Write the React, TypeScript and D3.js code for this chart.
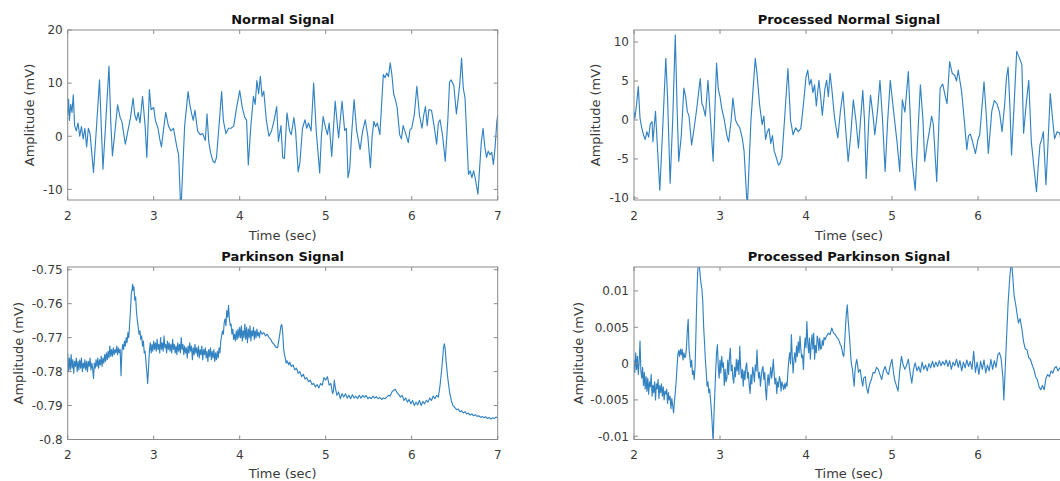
import React from "react";
import * as d3 from "d3";

type Pt = [number, number];

// ---------- DATA (time in sec, amplitude in mV) ----------
const normalSignal: Pt[] = [
  [2.0, 4], [2.01, 7], [2.02, 3], [2.035, 6], [2.05, 4.5], [2.065, 7.8], [2.08, 2], [2.1, 1], [2.12, 2.5], [2.14, 0],
  [2.16, 1.8], [2.18, -0.5], [2.2, 1.5], [2.22, -2], [2.24, 1.5], [2.26, 0.5], [2.3, -6.8], [2.34, 3], [2.37, 10.6], [2.39, 2],
  [2.41, -6.2], [2.44, 2], [2.48, 13.2], [2.5, 3], [2.52, -3.7], [2.55, 1], [2.58, 5.9], [2.61, 3.5], [2.63, 2.8], [2.67, -1.5],
  [2.7, 1], [2.73, 3.5], [2.76, 7.2], [2.78, 4], [2.8, 3], [2.82, 4.5], [2.84, 2.5], [2.87, 7.5], [2.9, 2], [2.92, -4],
  [2.95, 8.8], [2.97, 5], [3.0, 5.4], [3.02, 3], [3.05, 1.5], [3.07, -0.5], [3.09, -2], [3.12, 2], [3.14, 4.5], [3.17, 2],
  [3.2, 1], [3.23, 1.5], [3.27, -2.1], [3.29, -3.5], [3.31, -12], [3.32, -12.8], [3.36, 2], [3.4, 8.4], [3.42, 6], [3.44, 4.3],
  [3.46, 3], [3.48, 4.9], [3.51, 1], [3.54, 0.3], [3.57, 0.5], [3.6, -0.8], [3.62, 4.2], [3.64, -1], [3.66, -3], [3.68, -4.2],
  [3.69, -4.7], [3.71, -5], [3.73, -4], [3.75, 0], [3.79, 8.4], [3.81, 3], [3.84, 0.5], [3.87, 1.5], [3.9, 1.5], [3.93, 1.9],
  [3.96, 5], [4.0, 8.6], [4.03, 5.4], [4.06, 3.5], [4.08, 3], [4.1, -5.4], [4.13, 2], [4.16, 7.5], [4.18, 6], [4.2, 10.5],
  [4.22, 8], [4.24, 11.3], [4.26, 7.5], [4.28, 8.5], [4.31, 3], [4.34, 0], [4.37, 1], [4.4, 3], [4.43, 5.6], [4.45, -1],
  [4.48, 2], [4.5, -4], [4.52, -4.2], [4.55, 4.4], [4.58, 1], [4.6, 0.3], [4.63, 3.5], [4.65, 1], [4.68, -6.7], [4.7, -5],
  [4.73, 1.5], [4.76, 3.1], [4.78, 1.5], [4.8, 2.5], [4.83, 1], [4.86, 10], [4.89, 1], [4.93, -6.9], [4.95, 0], [4.97, 3.7],
  [5.0, 1.5], [5.02, 0.3], [5.04, 2.5], [5.07, -3.8], [5.11, 6.6], [5.15, -0.3], [5.19, 6.6], [5.22, 1.1], [5.24, 1.5], [5.26, -7.8],
  [5.28, -6], [5.3, 0], [5.33, 6.9], [5.36, 1], [5.4, -2.5], [5.43, 1], [5.46, 3.1], [5.49, 0], [5.52, -5.9], [5.54, 0],
  [5.56, 2.8], [5.58, 1.8], [5.6, 2.5], [5.63, 0.3], [5.65, 6], [5.67, 11.6], [5.69, 11], [5.71, 11.9], [5.73, 11.2], [5.75, 13.8],
  [5.77, 11.5], [5.79, 8], [5.81, 6.9], [5.83, 5.5], [5.86, 0.3], [5.88, -0.5], [5.9, 2], [5.93, 0.5], [5.96, -1.2], [5.98, 1.2],
  [6.0, 1.5], [6.03, 4], [6.06, 9.4], [6.09, 4], [6.12, 1.5], [6.14, 4], [6.16, 5.6], [6.18, 2], [6.2, 5], [6.23, 4.9],
  [6.26, 2], [6.29, -1.5], [6.31, 2.5], [6.33, 3.1], [6.36, 0], [6.39, -4.7], [6.42, 3], [6.44, 10.2], [6.46, 10.6], [6.49, 9.5],
  [6.52, 4.2], [6.54, 7], [6.56, 10], [6.58, 14.7], [6.6, 9], [6.62, 7.2], [6.64, 0], [6.66, -7.2], [6.68, -6.5], [6.7, -7.8],
  [6.72, -6.5], [6.74, -8], [6.77, -10.9], [6.79, -6], [6.81, -1], [6.83, 1.5], [6.85, -2], [6.87, -4], [6.89, -2.8], [6.91, -3.5],
  [6.93, -3], [6.95, -5.3], [6.97, -2], [6.99, 2.8], [7.0, 4],
];

const processedNormalSignal: Pt[] = [
  [2.0, 1], [2.01, 0.2], [2.03, 2], [2.05, 4.3], [2.07, 0.2], [2.09, -1], [2.11, -1.9], [2.13, -2.5], [2.15, -1.5], [2.17, -2.2],
  [2.19, -0.5], [2.21, -0.2], [2.22, -2.8], [2.25, 1.1], [2.27, -3], [2.3, -9], [2.33, -2], [2.37, 7.9], [2.39, 3], [2.42, -8.1],
  [2.45, 0], [2.48, 10.9], [2.5, 2], [2.52, -5.3], [2.55, -2], [2.58, 4.1], [2.6, 3], [2.62, 1.1], [2.64, 0.5], [2.67, -3.2],
  [2.7, -1], [2.73, 1.5], [2.77, 5.3], [2.79, 2], [2.8, 1.9], [2.83, 0.5], [2.86, 5.1], [2.89, 0], [2.92, -5.3], [2.96, 7.3],
  [2.98, 4], [3.0, 3], [3.02, 1.5], [3.05, 0], [3.08, -2], [3.1, -2.8], [3.13, 0], [3.15, 2.8], [3.18, 0], [3.2, -0.5],
  [3.23, -1], [3.26, -2.4], [3.28, -4], [3.31, -10], [3.32, -10.6], [3.36, 0], [3.41, 7.9], [3.43, 6], [3.46, 2], [3.49, -0.6],
  [3.51, 0.5], [3.53, -2.5], [3.55, -1.5], [3.57, -1.1], [3.59, -3], [3.61, -2], [3.63, -4], [3.66, -5], [3.68, -5.8], [3.7, -5.5],
  [3.72, -4.8], [3.75, 0], [3.79, 6.6], [3.82, 0], [3.85, -1.9], [3.88, -1], [3.91, -1.5], [3.94, -1.1], [3.97, 2], [4.0, 5.5],
  [4.02, 6.4], [4.04, 4.5], [4.06, 5.2], [4.08, 3.5], [4.1, 4.5], [4.12, 1.8], [4.15, 5.1], [4.17, 3], [4.19, 0.6], [4.22, 4],
  [4.24, 5.1], [4.26, 3], [4.28, 6.0], [4.3, 4], [4.33, 0.5], [4.35, -1], [4.37, -2.3], [4.4, 1.1], [4.43, 3.6], [4.46, -1],
  [4.49, -5.3], [4.52, -2], [4.55, 2.6], [4.58, 0], [4.61, -3.6], [4.66, 3.8], [4.68, 0], [4.7, -7.5], [4.73, 0], [4.75, 3.2],
  [4.78, 0.5], [4.8, -1.9], [4.83, 1], [4.86, 5.1], [4.89, 0], [4.92, -6.6], [4.95, 0], [4.98, 5.1], [5.01, 2], [5.03, 0],
  [5.06, -3], [5.09, -6.6], [5.12, 2.6], [5.15, 1], [5.19, 6.2], [5.21, 1], [5.23, -4.7], [5.25, -7], [5.27, -9], [5.3, -2],
  [5.33, 4.5], [5.36, 0], [5.38, -5.3], [5.41, -3], [5.44, -1.1], [5.46, 0.5], [5.48, -0.5], [5.52, -7.9], [5.54, -2], [5.56, 4.1],
  [5.59, 4.6], [5.62, 3], [5.64, 2.1], [5.67, 7.5], [5.7, 6], [5.73, 5.7], [5.75, 5], [5.77, 6.4], [5.79, 5], [5.81, 3.6],
  [5.84, 0], [5.87, -3.8], [5.89, -2], [5.91, -1.8], [5.93, -2.5], [5.97, -4.3], [6.0, -2.5], [6.02, -1.9], [6.07, 4.9], [6.1, 0],
  [6.12, -4.3], [6.16, 1.1], [6.19, 2.5], [6.22, 2.1], [6.25, 1], [6.28, -1.5], [6.31, 2], [6.33, 5.3], [6.35, 6.8], [6.37, 2],
  [6.39, -4.5], [6.42, 2], [6.45, 8.8], [6.48, 8], [6.51, 7.1], [6.53, -1.7], [6.56, 2], [6.59, 5.1], [6.62, -2.8], [6.65, -6],
  [6.68, -9.2], [6.7, -6], [6.72, -3.2], [6.74, -2.5], [6.76, -1.5], [6.79, -8.3], [6.81, -4], [6.84, 3.4], [6.86, 1], [6.89, -2.4],
  [6.92, -1.5], [6.95, -1.7], [6.97, -3], [7.0, -5],
];

const parkinsonSignal: Pt[] = [
  [2.0, -0.7745], [2.01, -0.78], [2.02, -0.776], [2.03, -0.7795], [2.04, -0.775], [2.05, -0.779], [2.06, -0.7765], [2.07, -0.7805],
  [2.08, -0.777], [2.09, -0.7785], [2.1, -0.776], [2.11, -0.78], [2.12, -0.777], [2.13, -0.7795], [2.14, -0.7765], [2.15, -0.779],
  [2.16, -0.776], [2.17, -0.78], [2.18, -0.7775], [2.19, -0.779], [2.2, -0.7765], [2.21, -0.7795], [2.22, -0.777], [2.23, -0.78],
  [2.24, -0.777], [2.25, -0.7785], [2.26, -0.776], [2.27, -0.7795], [2.28, -0.7775], [2.29, -0.779], [2.3, -0.782], [2.31, -0.7775],
  [2.32, -0.779], [2.33, -0.7765], [2.34, -0.7785], [2.35, -0.776], [2.36, -0.779], [2.37, -0.7765], [2.38, -0.778], [2.39, -0.7755],
  [2.4, -0.7785], [2.41, -0.776], [2.42, -0.7775], [2.43, -0.775], [2.44, -0.777], [2.45, -0.7745], [2.46, -0.7765], [2.47, -0.774],
  [2.48, -0.776], [2.49, -0.7725], [2.5, -0.7755], [2.51, -0.7735], [2.52, -0.7755], [2.53, -0.773], [2.54, -0.775], [2.55, -0.7735],
  [2.56, -0.7745], [2.57, -0.7725], [2.58, -0.775], [2.59, -0.773], [2.6, -0.7745], [2.61, -0.7735], [2.62, -0.7812], [2.63, -0.774],
  [2.64, -0.772], [2.65, -0.7735], [2.66, -0.771], [2.67, -0.7725], [2.68, -0.77], [2.69, -0.7715], [2.7, -0.7685], [2.71, -0.77],
  [2.72, -0.766], [2.73, -0.762], [2.74, -0.757], [2.75, -0.7555], [2.755, -0.7542], [2.76, -0.756], [2.77, -0.755], [2.78, -0.759],
  [2.79, -0.758], [2.8, -0.7625], [2.81, -0.765], [2.82, -0.767], [2.83, -0.769], [2.84, -0.768], [2.85, -0.7705], [2.86, -0.7695],
  [2.87, -0.7725], [2.88, -0.771], [2.89, -0.7745], [2.9, -0.774], [2.91, -0.777], [2.92, -0.78], [2.93, -0.7835], [2.94, -0.779],
  [2.95, -0.774], [2.96, -0.7715], [2.97, -0.7745], [2.98, -0.772], [2.99, -0.774], [3.0, -0.771], [3.01, -0.7735], [3.02, -0.7715],
  [3.03, -0.774], [3.04, -0.7705], [3.05, -0.7735], [3.06, -0.772], [3.07, -0.7745], [3.08, -0.77], [3.09, -0.7735], [3.1, -0.7715],
  [3.11, -0.774], [3.12, -0.7695], [3.13, -0.773], [3.14, -0.772], [3.15, -0.7745], [3.16, -0.771], [3.17, -0.7735], [3.18, -0.7715],
  [3.19, -0.774], [3.2, -0.772], [3.21, -0.7745], [3.22, -0.7705], [3.23, -0.7735], [3.24, -0.772], [3.25, -0.7745], [3.26, -0.7725],
  [3.27, -0.775], [3.28, -0.7715], [3.29, -0.774], [3.3, -0.772], [3.31, -0.7745], [3.32, -0.77], [3.33, -0.7735], [3.34, -0.772],
  [3.35, -0.775], [3.36, -0.7725], [3.37, -0.7745], [3.38, -0.773], [3.39, -0.776], [3.4, -0.7725], [3.41, -0.7745], [3.42, -0.7715],
  [3.43, -0.774], [3.44, -0.7725], [3.45, -0.7765], [3.46, -0.773], [3.47, -0.775], [3.48, -0.772], [3.49, -0.7745], [3.5, -0.773],
  [3.51, -0.7755], [3.52, -0.7725], [3.53, -0.776], [3.54, -0.7735], [3.55, -0.775], [3.56, -0.7725], [3.57, -0.7765], [3.58, -0.7735],
  [3.59, -0.775], [3.6, -0.773], [3.61, -0.776], [3.62, -0.774], [3.63, -0.777], [3.64, -0.7735], [3.65, -0.7755], [3.66, -0.773],
  [3.67, -0.7765], [3.68, -0.774], [3.69, -0.776], [3.7, -0.7735], [3.71, -0.777], [3.72, -0.7745], [3.73, -0.7765], [3.74, -0.774],
  [3.75, -0.776], [3.76, -0.773], [3.77, -0.7745], [3.78, -0.771], [3.79, -0.7695], [3.8, -0.768], [3.81, -0.769], [3.82, -0.7655],
  [3.83, -0.7645], [3.84, -0.7665], [3.85, -0.762], [3.86, -0.764], [3.87, -0.7605], [3.88, -0.7645], [3.89, -0.7665], [3.9, -0.766],
  [3.91, -0.769], [3.92, -0.7675], [3.93, -0.7705], [3.94, -0.769], [3.95, -0.771], [3.96, -0.768], [3.97, -0.7705], [3.98, -0.7675],
  [3.99, -0.77], [4.0, -0.767], [4.01, -0.77], [4.02, -0.7665], [4.03, -0.771], [4.04, -0.768], [4.05, -0.77], [4.06, -0.766],
  [4.07, -0.7705], [4.08, -0.767], [4.09, -0.7715], [4.1, -0.7675], [4.11, -0.77], [4.12, -0.7665], [4.13, -0.771], [4.14, -0.768],
  [4.15, -0.7695], [4.16, -0.767], [4.17, -0.7705], [4.18, -0.768], [4.19, -0.77], [4.2, -0.7675], [4.21, -0.7695], [4.22, -0.7685],
  [4.23, -0.77], [4.24, -0.768], [4.26, -0.769], [4.28, -0.7685], [4.3, -0.7695], [4.32, -0.769], [4.34, -0.77], [4.36, -0.7705],
  [4.38, -0.7715], [4.4, -0.772], [4.42, -0.7728], [4.44, -0.773], [4.46, -0.77], [4.48, -0.7665], [4.49, -0.7662], [4.5, -0.7685],
  [4.51, -0.773], [4.52, -0.775], [4.53, -0.776], [4.54, -0.7775], [4.55, -0.7768], [4.57, -0.778], [4.58, -0.7772], [4.6, -0.7785],
  [4.62, -0.778], [4.64, -0.7795], [4.66, -0.779], [4.68, -0.7805], [4.7, -0.78], [4.72, -0.7815], [4.74, -0.7808], [4.76, -0.7822],
  [4.78, -0.7818], [4.8, -0.783], [4.82, -0.7825], [4.84, -0.7838], [4.86, -0.7835], [4.88, -0.7845], [4.9, -0.7838], [4.92, -0.7848],
  [4.94, -0.7835], [4.96, -0.784], [4.98, -0.7818], [5.0, -0.7825], [5.02, -0.7815], [5.04, -0.784], [5.06, -0.7835], [5.08, -0.7865],
  [5.09, -0.7858], [5.1, -0.7825], [5.11, -0.7845], [5.13, -0.787], [5.15, -0.786], [5.17, -0.788], [5.19, -0.7865], [5.21, -0.7875],
  [5.23, -0.7865], [5.25, -0.7878], [5.27, -0.787], [5.29, -0.788], [5.31, -0.7868], [5.33, -0.7878], [5.35, -0.7872], [5.37, -0.788],
  [5.39, -0.787], [5.41, -0.7878], [5.43, -0.787], [5.45, -0.7876], [5.47, -0.787], [5.49, -0.788], [5.51, -0.7875], [5.53, -0.788],
  [5.55, -0.7872], [5.57, -0.7878], [5.59, -0.7874], [5.61, -0.788], [5.63, -0.7876], [5.65, -0.7882], [5.67, -0.7878], [5.69, -0.788],
  [5.71, -0.7875], [5.73, -0.787], [5.75, -0.7872], [5.77, -0.786], [5.79, -0.7855], [5.81, -0.7852], [5.83, -0.7862], [5.85, -0.7868],
  [5.87, -0.7875], [5.89, -0.787], [5.91, -0.7885], [5.93, -0.7878], [5.95, -0.789], [5.97, -0.7882], [5.99, -0.7895], [6.01, -0.7885],
  [6.03, -0.79], [6.05, -0.789], [6.07, -0.7898], [6.09, -0.7885], [6.11, -0.79], [6.13, -0.7888], [6.15, -0.7895], [6.17, -0.7885],
  [6.19, -0.789], [6.21, -0.7878], [6.23, -0.7885], [6.25, -0.7872], [6.27, -0.788], [6.29, -0.787], [6.31, -0.7875], [6.33, -0.784],
  [6.35, -0.779], [6.36, -0.776], [6.37, -0.773], [6.38, -0.7718], [6.39, -0.7735], [6.4, -0.777], [6.42, -0.782], [6.44, -0.786],
  [6.46, -0.7885], [6.48, -0.79], [6.5, -0.7905], [6.52, -0.7912], [6.54, -0.791], [6.56, -0.7918], [6.58, -0.7915], [6.6, -0.7922],
  [6.62, -0.7918], [6.64, -0.7925], [6.66, -0.7922], [6.68, -0.7928], [6.7, -0.7925], [6.72, -0.793], [6.74, -0.7927], [6.76, -0.7932],
  [6.78, -0.793], [6.8, -0.7935], [6.82, -0.7932], [6.84, -0.7936], [6.86, -0.7933], [6.88, -0.7938], [6.9, -0.7935], [6.92, -0.794],
  [6.94, -0.7936], [6.96, -0.7938], [6.98, -0.7934], [7.0, -0.7937],
];

const processedParkinsonSignal: Pt[] = [
  [2.0, 0.0005], [2.01, -0.0012], [2.02, 0.0015], [2.03, -0.0008], [2.04, 0.001], [2.05, -0.0015], [2.06, 0.0002], [2.07, 0.0031],
  [2.08, -0.001], [2.09, -0.002], [2.1, -0.0005], [2.11, -0.003], [2.12, -0.0012], [2.13, -0.0035], [2.14, -0.0018], [2.15, -0.0038],
  [2.16, -0.002], [2.17, -0.0042], [2.18, -0.0025], [2.19, -0.0032], [2.2, -0.0015], [2.21, -0.0045], [2.22, -0.003], [2.23, -0.004],
  [2.24, -0.0025], [2.25, -0.005], [2.26, -0.0028], [2.27, -0.0035], [2.28, -0.0022], [2.29, -0.0048], [2.3, -0.003], [2.31, -0.004],
  [2.32, -0.0028], [2.33, -0.0045], [2.34, -0.0032], [2.35, -0.005], [2.36, -0.0038], [2.37, -0.0042], [2.38, -0.0035], [2.39, -0.0055],
  [2.4, -0.004], [2.41, -0.005], [2.42, -0.0045], [2.43, -0.0062], [2.44, -0.0048], [2.45, -0.0058], [2.46, -0.0068], [2.47, -0.0052],
  [2.48, -0.004], [2.49, -0.0025], [2.5, -0.0005], [2.51, 0.0012], [2.52, 0.0018], [2.53, 0.001], [2.54, 0.002], [2.55, 0.0012],
  [2.56, 0.002], [2.57, 0.0005], [2.58, 0.0015], [2.59, 0.0008], [2.6, 0.001], [2.61, 0.0022], [2.62, 0.0045], [2.63, 0.0061],
  [2.64, 0.002], [2.65, 0.0008], [2.66, -0.0005], [2.67, 0.0005], [2.68, -0.0015], [2.69, -0.001], [2.7, -0.0022], [2.71, -0.0005],
  [2.72, 0.004], [2.73, 0.009], [2.74, 0.0125], [2.75, 0.014], [2.76, 0.0135], [2.77, 0.012], [2.78, 0.011], [2.79, 0.0102],
  [2.8, 0.0085], [2.81, 0.005], [2.82, 0.0029], [2.83, 0.0005], [2.84, -0.0012], [2.85, -0.0031], [2.86, -0.0025], [2.87, -0.004],
  [2.88, -0.0035], [2.89, -0.005], [2.9, -0.0065], [2.91, -0.0085], [2.92, -0.0108], [2.93, -0.007], [2.94, -0.004], [2.95, -0.001],
  [2.96, 0.0015], [2.97, 0.0026], [2.98, -0.0005], [2.99, -0.002], [3.0, 0.0005], [3.01, -0.0013], [3.02, 0.001], [3.03, -0.0005],
  [3.04, 0.0001], [3.05, -0.003], [3.06, -0.0008], [3.07, -0.0025], [3.08, -0.002], [3.09, 0.0005], [3.1, -0.0015], [3.11, 0.0008],
  [3.12, 0.0021], [3.13, -0.001], [3.14, -0.0002], [3.15, -0.002], [3.16, -0.0027], [3.17, -0.0005], [3.18, -0.0018], [3.19, 0.0006],
  [3.2, -0.001], [3.21, 0.0005], [3.22, -0.0015], [3.23, 0.0024], [3.24, -0.0005], [3.25, -0.002], [3.26, -0.0008], [3.27, -0.0031],
  [3.28, -0.001], [3.29, -0.0022], [3.3, -0.0005], [3.31, 0.0001], [3.32, -0.002], [3.33, -0.0012], [3.34, -0.003], [3.35, -0.0041],
  [3.36, -0.0015], [3.37, -0.0028], [3.38, -0.0005], [3.39, -0.0013], [3.4, -0.0025], [3.41, -0.0002], [3.42, -0.001], [3.43, 0.0019],
  [3.44, -0.0008], [3.45, -0.002], [3.46, -0.0012], [3.47, -0.0031], [3.48, -0.0018], [3.49, -0.0008], [3.5, -0.0004], [3.51, -0.0022],
  [3.52, -0.0012], [3.53, -0.0035], [3.54, -0.005], [3.55, -0.0025], [3.56, -0.0015], [3.57, -0.003], [3.58, -0.0018], [3.59, -0.0005],
  [3.6, -0.002], [3.61, -0.001], [3.62, 0.0006], [3.63, -0.0015], [3.64, -0.0028], [3.65, -0.002], [3.66, -0.0041], [3.67, -0.0025],
  [3.68, -0.0032], [3.69, -0.0018], [3.7, -0.0022], [3.71, -0.0038], [3.72, -0.0025], [3.73, -0.003], [3.74, -0.0036], [3.75, -0.0028],
  [3.76, -0.0034], [3.77, -0.0026], [3.78, -0.0031], [3.79, -0.001], [3.8, 0.0005], [3.81, 0.0015], [3.82, 0.0], [3.83, 0.004],
  [3.84, 0.001], [3.85, -0.0013], [3.86, 0.0005], [3.87, 0.0015], [3.88, 0.0002], [3.89, 0.0024], [3.9, 0.001], [3.91, 0.003],
  [3.92, 0.0015], [3.93, 0.0038], [3.94, 0.002], [3.95, 0.0008], [3.96, 0.0012], [3.97, -0.0008], [3.98, 0.002], [3.99, 0.0035],
  [4.0, 0.0022], [4.01, 0.0058], [4.02, 0.003], [4.03, 0.0015], [4.04, 0.0035], [4.05, 0.0006], [4.06, 0.0025], [4.07, 0.004],
  [4.08, 0.002], [4.09, 0.0042], [4.1, 0.0006], [4.11, 0.0025], [4.12, 0.0015], [4.13, 0.0038], [4.14, 0.0033], [4.15, 0.0018],
  [4.16, 0.0035], [4.17, 0.002], [4.18, 0.0021], [4.19, 0.0032], [4.2, 0.0025], [4.21, 0.0036], [4.22, 0.0033], [4.24, 0.0038],
  [4.26, 0.0042], [4.28, 0.004], [4.3, 0.0049], [4.32, 0.0042], [4.34, 0.004], [4.36, 0.0036], [4.38, 0.0033], [4.4, 0.0026],
  [4.41, 0.0024], [4.42, 0.0018], [4.43, 0.0012], [4.44, 0.001], [4.45, 0.003], [4.46, 0.0052], [4.47, 0.007], [4.48, 0.0081],
  [4.49, 0.006], [4.5, 0.0045], [4.51, 0.0029], [4.52, 0.001], [4.53, -0.0002], [4.54, -0.0008], [4.55, -0.002], [4.56, -0.0031],
  [4.57, -0.001], [4.58, 0.0], [4.59, 0.0006], [4.6, -0.0002], [4.61, -0.0012], [4.63, -0.0008], [4.65, -0.0025], [4.66, -0.0031],
  [4.67, -0.002], [4.69, -0.0018], [4.7, -0.003], [4.72, -0.0041], [4.74, -0.0028], [4.76, -0.0022], [4.78, -0.0012], [4.8, -0.0013],
  [4.82, -0.0005], [4.84, -0.0008], [4.86, -0.0015], [4.88, -0.0022], [4.9, -0.001], [4.92, -0.0004], [4.94, -0.0012], [4.96, -0.0015],
  [4.98, -0.0002], [5.0, 0.0006], [5.015, -0.001], [5.03, -0.0022], [5.05, -0.003], [5.07, -0.0038], [5.09, -0.001], [5.11, 0.001],
  [5.13, -0.0002], [5.15, -0.0008], [5.17, -0.0002], [5.19, 0.0006], [5.21, -0.0012], [5.23, -0.0027], [5.25, -0.0008], [5.27, 0.0001],
  [5.29, -0.001], [5.31, -0.0004], [5.33, -0.0012], [5.35, 0.0002], [5.37, -0.0008], [5.39, -0.0002], [5.41, -0.001], [5.43, 0.0],
  [5.45, -0.0006], [5.47, 0.0003], [5.49, -0.0005], [5.51, 0.0002], [5.53, -0.0004], [5.55, 0.0004], [5.57, -0.0003], [5.59, 0.0003],
  [5.61, -0.0002], [5.63, 0.0005], [5.65, -0.0004], [5.67, 0.0004], [5.69, -0.0008], [5.71, 0.0002], [5.73, -0.0003], [5.75, 0.0006],
  [5.77, -0.0005], [5.79, 0.0004], [5.81, -0.001], [5.83, 0.0002], [5.85, -0.0006], [5.87, 0.0005], [5.89, -0.0004], [5.91, 0.0003],
  [5.93, -0.0008], [5.95, 0.0017], [5.97, -0.0012], [5.99, 0.0002], [6.01, -0.0015], [6.03, 0.0003], [6.05, -0.0008], [6.07, 0.0005],
  [6.09, -0.0013], [6.11, -0.0002], [6.13, -0.001], [6.15, 0.0006], [6.17, -0.0008], [6.19, 0.0004], [6.21, -0.0005], [6.23, 0.0012],
  [6.25, 0.0015], [6.27, 0.0006], [6.29, -0.002], [6.3, -0.005], [6.31, -0.0025], [6.33, 0.003], [6.35, 0.0083], [6.37, 0.012],
  [6.39, 0.0142], [6.41, 0.011], [6.42, 0.0094], [6.44, 0.008], [6.45, 0.0072], [6.47, 0.0056], [6.49, 0.0062], [6.51, 0.0048],
  [6.53, 0.003], [6.55, 0.002], [6.57, 0.0019], [6.59, 0.0008], [6.61, 0.0006], [6.63, -0.0002], [6.65, -0.0008], [6.67, -0.0018],
  [6.69, -0.0022], [6.71, -0.0032], [6.73, -0.0036], [6.75, -0.003], [6.77, -0.0036], [6.79, -0.002], [6.81, -0.0015], [6.83, -0.0018],
  [6.85, -0.001], [6.87, -0.0013], [6.89, -0.0006], [6.91, -0.0004], [6.93, -0.001], [6.95, -0.0006], [6.97, -0.0008], [7.0, -0.0005],
];

const timeTicks = [2, 3, 4, 5, 6, 7];
const normalTicks = [-10, 0, 10, 20];
const processedNormalTicks = [-10, -5, 0, 5, 10];
const parkinsonTicks = [-0.8, -0.79, -0.78, -0.77, -0.76, -0.75];
const processedParkinsonTicks = [-0.01, -0.005, 0, 0.005, 0.01];

const titles = ["Normal Signal", "Processed Normal Signal", "Parkinson Signal", "Processed Parkinson Signal"];
const xLabel = "Time (sec)";
const yLabel = "Amplitude (mV)";

// ---------- LAYOUT ----------
const W = 1060;
const H = 481;
const colLeft = [67.7, 634];
const plotW = 430;
const rowTop = [30, 267];
const rowH = [170, 172.5];
const FONT = "'DejaVu Sans', 'Liberation Sans', Arial, sans-serif";
const LINE = "#3383c3";
const AXIS = "#8a8a8a";
const TEXT = "#3a3a3a";

const panels = [
  { title: titles[0], data: normalSignal, yDomain: [-12, 20], yTicks: normalTicks, col: 0, row: 0, yLabelX: 29.5 },
  { title: titles[1], data: processedNormalSignal, yDomain: [-10.26, 11.54], yTicks: processedNormalTicks, col: 1, row: 0, yLabelX: 595 },
  { title: titles[2], data: parkinsonSignal, yDomain: [-0.8, -0.7492], yTicks: parkinsonTicks, col: 0, row: 1, yLabelX: 18.5 },
  { title: titles[3], data: processedParkinsonSignal, yDomain: [-0.01045, 0.0133], yTicks: processedParkinsonTicks, col: 1, row: 1, yLabelX: 578 },
];

const fmt = (v: number) => String(+v.toFixed(4));

function Panel({ p, idx }: { p: (typeof panels)[number]; idx: number }) {
  const x0 = colLeft[p.col];
  const y0 = rowTop[p.row];
  const h = rowH[p.row];
  const x = d3.scaleLinear().domain([2, 7]).range([x0, x0 + plotW]);
  const y = d3.scaleLinear().domain(p.yDomain).range([y0 + h, y0]);
  const line = d3
    .line<Pt>()
    .x((d) => x(d[0]))
    .y((d) => y(d[1]));
  const clipId = `clip-${idx}`;
  const tl = 4;
  const cx = x0 + plotW / 2;
  return (
    <g>
      <defs>
        <clipPath id={clipId}>
          <rect x={x0} y={y0} width={plotW} height={h} />
        </clipPath>
      </defs>
      <rect x={x0} y={y0} width={plotW} height={h} fill="#fff" />
      <path d={line(p.data) || ""} fill="none" stroke={LINE} strokeWidth={1.15} clipPath={`url(#${clipId})`} strokeLinejoin="round" />
      <rect x={x0} y={y0} width={plotW} height={h} fill="none" stroke={AXIS} strokeWidth={1} />
      {timeTicks.map((t) => (
        <g key={`xt${t}`}>
          <line x1={x(t)} x2={x(t)} y1={y0 + h} y2={y0 + h - tl} stroke={AXIS} />
          <line x1={x(t)} x2={x(t)} y1={y0} y2={y0 + tl} stroke={AXIS} />
          <text x={x(t)} y={y0 + h + (p.row === 0 ? 20 : 19.5)} textAnchor="middle" fontSize={12} fill={TEXT} fontFamily={FONT}>
            {t}
          </text>
        </g>
      ))}
      {p.yTicks.map((v) => (
        <g key={`yt${v}`}>
          <line x1={x0} x2={x0 + tl} y1={y(v)} y2={y(v)} stroke={AXIS} />
          <line x1={x0 + plotW} x2={x0 + plotW - tl} y1={y(v)} y2={y(v)} stroke={AXIS} />
          <text x={x0 - 5} y={y(v)} dy="0.36em" textAnchor="end" fontSize={12} fill={TEXT} fontFamily={FONT}>
            {fmt(v)}
          </text>
        </g>
      ))}
      <text x={cx} y={y0 - 6.5} textAnchor="middle" fontSize={13} fontWeight="bold" fill="#111" fontFamily={FONT}>
        {p.title}
      </text>
      <text x={cx} y={y0 + h + (p.row === 0 ? 39.5 : 38)} textAnchor="middle" fontSize={13} fill={TEXT} fontFamily={FONT}>
        {xLabel}
      </text>
      <text
        transform={`translate(${p.yLabelX},${y0 + h / 2}) rotate(-90)`}
        textAnchor="middle"
        dy="0.36em"
        fontSize={13}
        fill={TEXT}
        fontFamily={FONT}
      >
        {yLabel}
      </text>
    </g>
  );
}

export default function App() {
  return (
    <svg
      width={W}
      height={H}
      viewBox={`0 0 ${W} ${H}`}
      style={{ position: "absolute", left: 0, top: 0, background: "#fff", display: "block" }}
    >
      <rect x={0} y={0} width={W} height={H} fill="#fff" />
      {panels.map((p, i) => (
        <Panel key={i} p={p} idx={i} />
      ))}
    </svg>
  );
}
